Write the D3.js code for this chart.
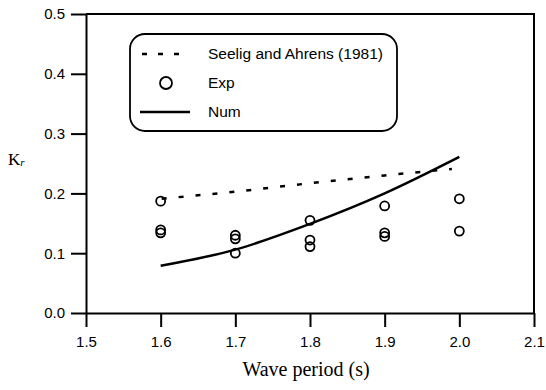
<!DOCTYPE html>
<html>
<head>
<meta charset="utf-8">
<script src="https://cdn.jsdelivr.net/npm/d3@7"></script>
<style>
  html, body { margin: 0; padding: 0; background: #fff; }
  svg { display: block; }
</style>
</head>
<body>
<svg id="chart" width="546" height="390"></svg>
<script>
// Reflection coefficient vs wave period
const xTicks = [1.5, 1.6, 1.7, 1.8, 1.9, 2.0, 2.1];
const yTicks = [0.0, 0.1, 0.2, 0.3, 0.4, 0.5];

// Seelig and Ahrens (1981) empirical estimate
const seeligPeriod = [1.6, 1.7, 1.8, 1.9, 1.99];
const seeligKr     = [0.191, 0.203, 0.217, 0.230, 0.241];

// Experimental measurements
const expPeriod = [1.6, 1.6, 1.6, 1.7, 1.7, 1.7, 1.8, 1.8, 1.8, 1.9, 1.9, 1.9, 2.0, 2.0];
const expKr     = [0.187, 0.139, 0.134, 0.130, 0.124, 0.100, 0.155, 0.122, 0.111, 0.179, 0.134, 0.128, 0.191, 0.137];

// Numerical model
const numPeriod = [1.6, 1.7, 1.8, 1.9, 2.0];
const numKr     = [0.079, 0.106, 0.149, 0.200, 0.261];

const legendLabels = ["Seelig and Ahrens (1981)", "Exp", "Num"];

const svg = d3.select("#chart");
const plotLeft = 86, plotRight = 534, plotTop = 14, plotBottom = 313;

const x = d3.scaleLinear().domain([1.5, 2.1]).range([plotLeft, plotRight]);
const y = d3.scaleLinear().domain([0, 0.5]).range([plotBottom, plotTop]);

const sans = "'Liberation Sans', Arial, sans-serif";
const serif = "'Liberation Serif', 'Times New Roman', serif";

// Frame: top and right borders
svg.append("path")
  .attr("d", `M${plotLeft},${plotTop}H${plotRight}V${plotBottom}`)
  .attr("fill", "none").attr("stroke", "#000").attr("stroke-width", 2);

// Axes
const xAxis = svg.append("g")
  .attr("transform", `translate(0,${plotBottom})`)
  .call(d3.axisBottom(x).tickValues(xTicks).tickFormat(d3.format(".1f")).tickSize(14).tickPadding(9).tickSizeOuter(0));
const yAxis = svg.append("g")
  .attr("transform", `translate(${plotLeft},0)`)
  .call(d3.axisLeft(y).tickValues(yTicks).tickFormat(d3.format(".1f")).tickSize(15).tickPadding(6).tickSizeOuter(0));

[xAxis, yAxis].forEach(g => {
  g.select(".domain").attr("stroke-width", 2);
  g.selectAll(".tick line").attr("stroke-width", 2);
  g.selectAll(".tick text").attr("font-family", sans).attr("font-size", 15).attr("fill", "#000");
});

// Axis titles
svg.append("text")
  .attr("x", 306).attr("y", 376)
  .attr("text-anchor", "middle")
  .attr("font-family", serif).attr("font-size", 20)
  .text("Wave period (s)");

const kr = svg.append("text")
  .attr("x", 8).attr("y", 165)
  .attr("font-family", serif).attr("font-size", 17);
kr.append("tspan").text("K");
kr.append("tspan").attr("font-size", 11).attr("font-style", "italic").attr("dy", 1).text("r");

// Seelig and Ahrens dashed line
const seelig = seeligPeriod.map((p, i) => [p, seeligKr[i]]);
svg.append("path")
  .datum(seelig)
  .attr("fill", "none").attr("stroke", "#000").attr("stroke-width", 2.5)
  .attr("stroke-dasharray", "5,12").attr("stroke-dashoffset", -1)
  .attr("d", d3.line().x(d => x(d[0])).y(d => y(d[1])).curve(d3.curveMonotoneX));

// Numerical curve
const num = numPeriod.map((p, i) => [p, numKr[i]]);
svg.append("path")
  .datum(num)
  .attr("fill", "none").attr("stroke", "#000").attr("stroke-width", 2.5)
  .attr("d", d3.line().x(d => x(d[0])).y(d => y(d[1])).curve(d3.curveMonotoneX));

// Experimental points
svg.append("g").selectAll("circle")
  .data(expPeriod.map((p, i) => [p, expKr[i]]))
  .join("circle")
  .attr("cx", d => x(d[0])).attr("cy", d => y(d[1]))
  .attr("r", 4.5)
  .attr("fill", "none").attr("stroke", "#000").attr("stroke-width", 1.8);

// Legend
const lg = svg.append("g");
lg.append("rect")
  .attr("x", 130).attr("y", 34).attr("width", 267).attr("height", 97)
  .attr("rx", 15).attr("ry", 15)
  .attr("fill", "#fff").attr("stroke", "#000").attr("stroke-width", 1.8);

const rowY = [54, 83, 112];
lg.append("line")
  .attr("x1", 142).attr("x2", 179).attr("y1", rowY[0]).attr("y2", rowY[0])
  .attr("stroke", "#000").attr("stroke-width", 2.5).attr("stroke-dasharray", "5,11");
lg.append("circle")
  .attr("cx", 166).attr("cy", rowY[1]).attr("r", 6)
  .attr("fill", "none").attr("stroke", "#000").attr("stroke-width", 1.8);
lg.append("line")
  .attr("x1", 140).attr("x2", 190).attr("y1", rowY[2]).attr("y2", rowY[2])
  .attr("stroke", "#000").attr("stroke-width", 2.5);

lg.selectAll("text.lab")
  .data(legendLabels)
  .join("text")
  .attr("class", "lab")
  .attr("x", 208).attr("y", (d, i) => rowY[i] + 5)
  .attr("font-family", sans).attr("font-size", 15.5)
  .attr("fill", "#000")
  .text(d => d);
</script>
</body>
</html>
